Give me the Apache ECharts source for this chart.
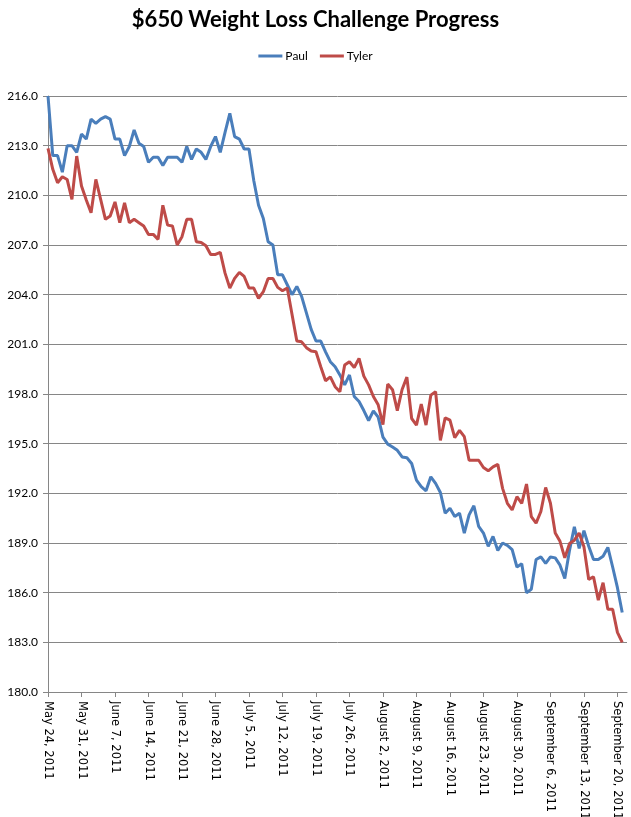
<!DOCTYPE html>
<html>
<head>
<meta charset="utf-8">
<script src="https://cdn.jsdelivr.net/npm/echarts@6/dist/echarts.min.js"></script>
<style>
html,body{margin:0;padding:0;background:#fff;}
#chart{width:631px;height:817px;}
</style>
</head>
<body>
<div id="chart"></div>
<script>
var title = '$650 Weight Loss Challenge Progress';
var seriesNames = ['Paul', 'Tyler'];
var startDate = [2011, 4, 24]; // May 24, 2011
var dayCount = 122;            // axis runs May 24 .. Sep 22
var monthNames = ['January','February','March','April','May','June','July','August','September','October','November','December'];

var paul = [
216.0,212.4,212.4,211.4,213.0,213.0,212.6,213.7,213.4,214.6,
214.35,214.6,214.75,214.6,213.4,213.4,212.4,212.95,213.95,213.15,
212.95,212.0,212.3,212.3,211.8,212.3,212.3,212.3,212.0,212.95,
212.17,212.8,212.6,212.17,212.95,213.55,212.6,213.8,214.95,213.55,
213.4,212.8,212.8,210.9,209.4,208.6,207.2,207.0,205.2,205.2,
204.6,204.0,204.5,203.9,202.9,201.9,201.2,201.2,200.55,199.95,
199.65,199.15,198.55,199.15,197.85,197.55,197.0,196.4,196.98,196.6,
195.4,194.97,194.8,194.6,194.2,194.15,193.8,192.8,192.4,192.15,
193.0,192.6,192.05,190.8,191.1,190.6,190.8,189.6,190.7,191.25,
190.0,189.6,188.8,189.4,188.55,189.0,188.85,188.6,187.55,187.75,
186.0,186.2,188.0,188.16,187.77,188.16,188.1,187.66,186.86,188.57,
189.98,188.67,189.74,188.8,188.0,188.0,188.2,188.73,187.55,186.3,
184.8
];

var tyler = [
212.84,211.57,210.76,211.12,210.96,209.76,212.37,210.56,209.72,208.95,
210.96,209.76,208.55,208.75,209.6,208.35,209.55,208.35,208.55,208.35,
208.15,207.64,207.64,207.34,209.4,208.2,208.15,207.0,207.5,208.55,
208.55,207.2,207.15,206.95,206.43,206.43,206.55,205.3,204.4,204.98,
205.35,205.1,204.4,204.4,203.78,204.18,204.98,204.98,204.44,204.24,
204.4,202.8,201.2,201.15,200.8,200.6,200.55,199.65,198.8,199.04,
198.44,198.14,199.75,199.95,199.6,200.15,199.08,198.55,197.85,197.35,
196.15,198.6,198.26,197.0,198.27,199.02,196.52,196.12,197.39,196.12,
197.93,198.14,195.2,196.56,196.42,195.37,195.8,195.42,194.0,194.0,
194.0,193.56,193.36,193.6,193.75,192.3,191.4,191.0,191.8,191.4,
192.56,190.6,190.2,190.9,192.35,191.4,189.6,189.1,188.1,188.97,
189.17,189.6,188.77,186.8,186.96,185.55,186.6,185.0,185.0,183.6,
183.0
];

var yMin = 180, yMax = 216, yStep = 3;

var categories = [];
for (var i = 0; i < dayCount; i++) {
  var d = new Date(Date.UTC(startDate[0], startDate[1], startDate[2] + i));
  categories.push(monthNames[d.getUTCMonth()] + ' ' + d.getUTCDate() + ', ' + d.getUTCFullYear());
}

var chart = echarts.init(document.getElementById('chart'), null, {renderer: 'canvas'});
var gray = '#868686';
chart.setOption({
  backgroundColor: '#ffffff',
  animation: false,
  title: {
    text: title,
    left: 'center',
    top: 4,
    textStyle: {fontFamily: 'Lato', fontWeight: 'bold', fontSize: 22, color: '#000'}
  },
  legend: {
    top: 45,
    left: 'center',
    icon: 'rect',
    itemWidth: 24,
    itemHeight: 3,
    itemGap: 12,
    textStyle: {fontFamily: 'Lato', fontSize: 12, color: '#000', padding: [0,0,0,-2]},
    data: seriesNames
  },
  grid: {left: 48, right: 4, top: 96, bottom: 125, containLabel: false, outerBoundsMode: 'none'},
  xAxis: {
    type: 'category',
    data: categories,
    boundaryGap: false,
    axisLine: {lineStyle: {color: gray, width: 1}},
    axisTick: {interval: 6, length: 5, lineStyle: {color: gray}},
    axisLabel: {
      interval: 6, rotate: -90, margin: 9,
      fontFamily: 'DejaVu Sans', fontSize: 11.5, color: '#000'
    },
    splitLine: {show: false}
  },
  yAxis: {
    type: 'value',
    min: yMin, max: yMax, interval: yStep,
    axisLine: {show: true, lineStyle: {color: gray, width: 1}},
    axisTick: {show: true, length: 5, lineStyle: {color: gray}},
    axisLabel: {
      margin: 10, fontFamily: 'Lato', fontSize: 12, color: '#000',
      formatter: function (v) { return v.toFixed(1); }
    },
    splitLine: {show: true, lineStyle: {color: gray, width: 1}}
  },
  series: [
    {name: seriesNames[0], type: 'line', data: paul, symbol: 'none',
     itemStyle: {color: '#4A7EBB'}, lineStyle: {color: '#4A7EBB', width: 3}},
    {name: seriesNames[1], type: 'line', data: tyler, symbol: 'none',
     itemStyle: {color: '#BE4B48'}, lineStyle: {color: '#BE4B48', width: 3}}
  ]
});
</script>
</body>
</html>
